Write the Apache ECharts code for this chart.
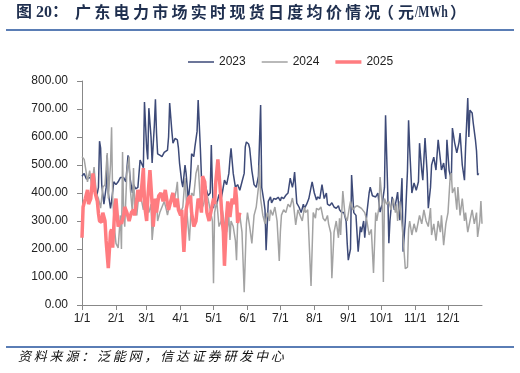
<!DOCTYPE html>
<html><head><meta charset="utf-8">
<script src="https://cdn.jsdelivr.net/npm/echarts@6/dist/echarts.min.js"></script>
<style>html,body{margin:0;padding:0;background:#fff}#c{width:520px;height:373px}</style>
</head><body><div id="c"></div>
<script>
const monthStarts = [0,31,59,90,120,151,181,212,243,273,304,334];
const monthLabels = ['1/1','2/1','3/1','4/1','5/1','6/1','7/1','8/1','9/1','10/1','11/1','12/1'];
const seriesNames = ['2023','2024','2025'];

const s2023 = [[0,460],[2,470],[4,450],[5,445],[7,455],[9,450],[11,440],[13,380],[15,420],[16,585],[17,560],[18,430],[20,360],[22,420],[23,535],[24,400],[26,345],[27,370],[29,440],[31,430],[33,440],[35,455],[36,450],[38,455],[40,440],[42,535],[44,450],[46,400],[47,430],[49,415],[51,420],[53,518],[55,500],[56,490],[57,725],[59,560],[60,520],[61,703],[63,600],[64,507],[66,640],[67,735],[68,614],[69,540],[71,535],[73,530],[75,545],[78,553],[79,600],[80,721],[82,620],[83,578],[85,595],[87,590],[88,560],[89,507],[91,440],[92,421],[94,500],[95,470],[97,375],[99,450],[100,540],[102,530],[103,564],[105,620],[106,732],[108,560],[109,457],[111,450],[113,420],[115,390],[117,400],[118,571],[119,420],[120,346],[121,380],[123,360],[125,395],[127,380],[128,400],[130,446],[132,430],[134,470],[135,520],[136,560],[138,470],[140,420],[142,430],[144,410],[146,440],[148,470],[149,565],[150,582],[152,575],[153,560],[155,480],[157,430],[159,420],[161,460],[163,714],[164,420],[166,370],[167,340],[168,196],[170,370],[172,386],[173,365],[175,380],[177,378],[179,385],[181,372],[182,385],[184,380],[186,392],[188,400],[190,453],[192,420],[193,440],[194,475],[196,364],[198,350],[200,330],[202,360],[203,345],[205,360],[207,380],[209,420],[210,440],[212,400],[214,375],[215,386],[217,380],[219,430],[221,380],[223,400],[224,360],[226,355],[228,365],[230,350],[232,345],[234,355],[235,340],[237,330],[239,330],[241,300],[242,220],[243,160],[245,200],[246,464],[248,330],[250,320],[252,190],[254,280],[255,260],[257,300],[258,240],[260,330],[262,400],[263,421],[265,390],[266,395],[268,386],[270,400],[272,332],[274,360],[276,420],[277,678],[279,400],[280,221],[281,300],[283,386],[285,340],[287,380],[288,403],[289,350],[290,303],[292,453],[293,190],[295,300],[297,480],[298,660],[299,560],[301,400],[303,436],[305,410],[307,440],[308,578],[310,480],[311,446],[313,596],[315,470],[316,346],[318,420],[319,500],[321,528],[323,482],[325,590],[327,520],[328,482],[330,507],[332,450],[333,590],[335,480],[337,446],[338,632],[340,580],[342,543],[344,580],[345,614],[347,500],[349,446],[350,560],[352,739],[353,600],[354,696],[356,686],[357,650],[359,590],[360,550],[361,464],[362,470]];

const s2024 = [[0,530],[2,520],[4,470],[5,440],[7,480],[9,420],[11,493],[13,400],[15,380],[16,364],[17,346],[19,420],[21,430],[23,543],[24,380],[26,500],[27,635],[28,380],[30,260],[31,220],[33,204],[35,320],[36,200],[37,546],[38,330],[39,280],[41,480],[43,530],[44,418],[46,330],[47,489],[48,360],[50,320],[52,400],[54,380],[56,340],[57,410],[59,360],[61,330],[63,360],[64,232],[66,320],[68,380],[69,300],[71,330],[73,350],[75,370],[77,340],[78,321],[80,360],[82,400],[84,370],[86,410],[87,440],[88,360],[90,330],[92,350],[94,453],[96,320],[98,230],[99,300],[100,400],[102,390],[104,470],[106,500],[108,370],[109,340],[111,360],[113,400],[115,380],[117,340],[119,300],[120,78],[121,330],[123,370],[125,280],[127,300],[128,340],[130,290],[132,260],[134,314],[135,232],[136,300],[138,280],[140,230],[141,160],[142,290],[144,320],[146,260],[148,46],[150,290],[151,330],[153,280],[155,220],[157,320],[159,350],[161,420],[162,500],[163,380],[165,320],[167,290],[169,330],[171,300],[172,340],[174,320],[176,350],[178,300],[180,157],[181,260],[182,321],[184,340],[186,330],[188,360],[190,350],[192,382],[193,360],[195,286],[197,340],[199,320],[201,300],[203,350],[204,330],[206,340],[209,68],[211,330],[213,310],[214,345],[216,340],[218,350],[220,310],[222,300],[224,320],[225,290],[227,257],[228,96],[230,260],[232,300],[234,240],[235,310],[236,250],[238,407],[240,320],[242,300],[244,350],[245,370],[247,340],[249,350],[251,355],[253,350],[255,345],[256,350],[258,330],[260,300],[262,250],[264,270],[266,114],[268,330],[269,300],[271,350],[272,457],[274,360],[275,82],[276,380],[278,360],[280,370],[282,340],[284,380],[286,330],[287,360],[288,300],[290,370],[293,243],[295,130],[297,135],[298,270],[299,300],[301,250],[303,290],[305,260],[307,300],[308,320],[310,290],[312,340],[314,300],[316,280],[318,346],[319,250],[321,290],[323,230],[325,300],[327,260],[328,320],[330,214],[332,290],[334,330],[336,460],[337,471],[338,400],[340,420],[342,340],[343,421],[345,320],[347,380],[349,300],[350,330],[352,260],[354,300],[356,340],[358,290],[360,330],[361,243],[363,300],[364,371],[365,290]];

const s2025 = [[0,240],[1,350],[3,380],[5,411],[6,360],[8,380],[10,470],[12,400],[14,370],[15,328],[16,300],[18,295],[19,330],[21,300],[22,229],[24,132],[26,260],[27,270],[28,205],[30,350],[31,380],[33,280],[35,300],[36,290],[38,320],[39,350],[41,330],[43,300],[45,330],[47,340],[48,320],[50,380],[51,411],[53,370],[54,400],[56,489],[57,360],[59,300],[60,380],[62,482],[64,360],[65,280],[67,380],[68,330],[70,390],[72,400],[74,370],[76,411],[78,360],[79,340],[81,370],[83,400],[85,350],[87,380],[88,340],[90,320],[91,340],[93,190],[95,340],[97,380],[99,390],[100,330],[102,280],[104,300],[106,380],[108,360],[109,330],[110,460],[112,440],[114,330],[116,300],[118,340],[120,380],[121,360],[122,436],[124,520],[126,420],[128,300],[129,260],[130,140],[132,320],[133,370],[135,314],[137,380],[139,360],[140,421],[141,380],[142,293],[144,330]];

const titleHead = '图 20：';
const titleBody = '广东电力市场实时现货日度均价情况';
const titleUnit = ['（','元','/MWh','）'];
const sourceText = '资料来源：泛能网，信达证券研发中心';

const titleColor = '#1f2f4f';
const cjkBold = 'bold 16px "Noto Sans CJK SC"';
const serifBold = 'bold 16px "Liberation Serif","Noto Sans CJK SC"';
const graphics = [];
graphics.push({type:'text', left:16, top:5, style:{text:titleHead, font:serifBold, fill:titleColor}});
titleBody.split('').forEach((ch,i)=>{
  graphics.push({type:'text', left:75 + i*19.3, top:4, style:{text:ch, font:cjkBold, fill:titleColor}});
});
graphics.push({type:'text', left:378, top:4, style:{text:titleUnit[0], font:cjkBold, fill:titleColor}});
graphics.push({type:'text', left:398, top:4, style:{text:titleUnit[1], font:cjkBold, fill:titleColor}});
graphics.push({type:'text', x:415, y:5, scaleX:0.74, style:{text:titleUnit[2], font:'bold 16px "Liberation Serif"', fill:titleColor}});
graphics.push({type:'text', left:450, top:4, style:{text:titleUnit[3], font:cjkBold, fill:titleColor}});
graphics.push({type:'rect', shape:{x:6, y:29, width:508, height:2}, style:{fill:'#5a7db5'}});
graphics.push({type:'rect', shape:{x:6, y:346, width:508, height:2}, style:{fill:'#5a7db5'}});
sourceText.split('').forEach((ch,i)=>{
  graphics.push({type:'text', left:18 + i*15.8, top:350, style:{text:ch, font:'italic 13px "Noto Sans CJK SC"', fill:'#111'}});
});

const thinIcon = 'path://M0,0H0.05V0.05H0Z M0,5.2H26V6.8H0Z M25.95,11.95H26V12H25.95Z';
const thickIcon = 'path://M0,0H0.05V0.05H0Z M0,4.2H26V7.8H0Z M25.95,11.95H26V12H25.95Z';

const chart = echarts.init(document.getElementById('c'), null, {renderer:'canvas'});
chart.setOption({
  animation:false,
  backgroundColor:'#fff',
  graphic: graphics,
  legend:{
    data: [
      {name:seriesNames[0], icon:thinIcon},
      {name:seriesNames[1], icon:thinIcon},
      {name:seriesNames[2], icon:thickIcon}
    ],
    top:51, left:183,
    itemWidth:26, itemHeight:12, itemGap:16,
    textStyle:{fontSize:12, color:'#222', fontFamily:'Liberation Sans, Arial'}
  },
  grid:{left:82, right:38, top:81, bottom:68, containLabel:false},
  xAxis:{
    type:'value', min:0, max:365,
    axisLine:{lineStyle:{color:'#888', width:1}},
    axisTick:{show:true, customValues: monthStarts, length:5, lineStyle:{color:'#888'}},
    axisLabel:{customValues: monthStarts, formatter:(v)=>monthLabels[monthStarts.indexOf(v)] || '', fontSize:12, color:'#222', margin:8, fontFamily:'Liberation Sans, Arial'},
    splitLine:{show:false}
  },
  yAxis:{
    type:'value', min:0, max:800, interval:100,
    axisLine:{show:true, lineStyle:{color:'#888', width:1}},
    axisTick:{show:true, length:5, lineStyle:{color:'#888'}},
    axisLabel:{formatter:(v)=>v.toFixed(2), fontSize:12, color:'#222', margin:14, fontFamily:'Liberation Sans, Arial'},
    splitLine:{show:false}
  },
  series:[
    {name:'2023', type:'line', data:s2023, showSymbol:false, symbol:'none', lineStyle:{color:'#3d4a78', width:1.5}, itemStyle:{color:'#3d4a78'}},
    {name:'2024', type:'line', data:s2024, showSymbol:false, symbol:'none', lineStyle:{color:'#a3a3a3', width:1.5}, itemStyle:{color:'#a3a3a3'}},
    {name:'2025', type:'line', data:s2025, showSymbol:false, symbol:'none', lineStyle:{color:'#ff7c80', width:3.5}, itemStyle:{color:'#ff7c80'}}
  ]
});
</script></body></html>
